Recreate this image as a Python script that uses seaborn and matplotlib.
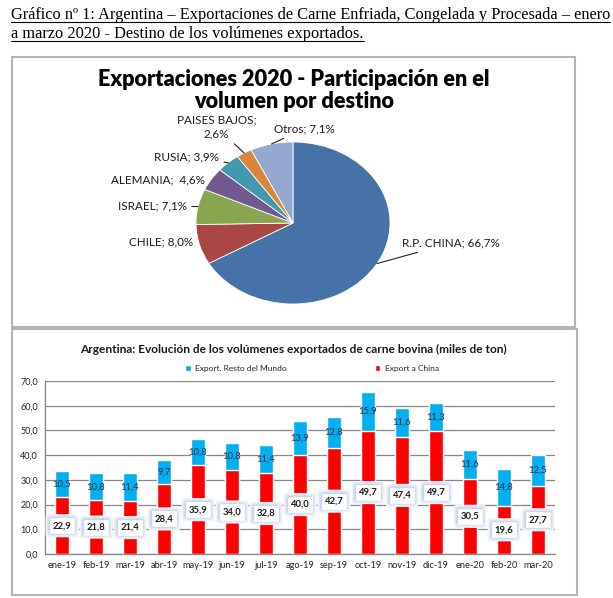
"""
Argentina beef exports: destination share pie (2020) + monthly volumes
China vs rest of the world (ene-19 .. mar-20), stacked bars.
"""
import matplotlib
matplotlib.use("Agg")
import matplotlib.pyplot as plt
from matplotlib.lines import Line2D
from matplotlib.patches import Rectangle
import numpy as np
import pandas as pd
import seaborn as sns

W, H = 613, 598  # output size in px (dpi=100)

# --- pie: share of exported volume by destination ---
PIE_LABELS = ["R.P. CHINA", "CHILE", "ISRAEL", "ALEMANIA", "RUSIA", "PAISES BAJOS", "Otros"]
PIE_TEXTS = ["R.P. CHINA; 66,7%", "CHILE; 8,0%", "ISRAEL; 7,1%", "ALEMANIA;  4,6%",
             "RUSIA; 3,9%", "PAISES BAJOS;\n2,6%", "Otros; 7,1%"]
PIE_SHARES = [66.7, 8.0, 7.1, 4.6, 3.9, 2.6, 7.1]
PIE_COLORS = ["#4572A7", "#AA4643", "#89A54E", "#71588F", "#4198AF", "#DB843D", "#93A9CF"]

# --- bars: monthly volumes (miles de ton) ---
MONTHS = ["ene-19", "feb-19", "mar-19", "abr-19", "may-19", "jun-19", "jul-19", "ago-19",
          "sep-19", "oct-19", "nov-19", "dic-19", "ene-20", "feb-20", "mar-20"]
CHINA = [22.9, 21.8, 21.4, 28.4, 35.9, 34.0, 32.8, 40.0, 42.7, 49.7, 47.4, 49.7, 30.5, 19.6, 27.7]
REST = [10.5, 10.8, 11.4, 9.7, 10.8, 10.8, 11.4, 13.9, 12.8, 15.9, 11.6, 11.3, 11.6, 14.8, 12.5]

RED = "#FF0000"
CYAN = "#00B0F0"
GRID = "#868686"


def px(x, y):
    """pixel (from top-left) -> figure fraction"""
    return x / W, 1 - y / H


def comma(v):
    return f"{v:.1f}".replace(".", ",")


def main():
    sns.set_theme(style="white")
    plt.rcParams["font.family"] = ["Lato", "DejaVu Sans"]

    fig = plt.figure(figsize=(W / 100, H / 100), dpi=100)

    # header (Word document caption, underlined)
    head1 = fig.text(*px(11, 19), "Gráfico nº 1: Argentina – Exportaciones de Carne Enfriada, "
                     "Congelada y Procesada – enero", family="Liberation Serif",
                     fontsize=11.8, va="baseline", ha="left", color="black")
    head2 = fig.text(*px(11, 38), "a marzo 2020 - Destino de los volúmenes exportados.",
                     family="Liberation Serif", fontsize=11.8, va="baseline", ha="left",
                     color="black")

    # frames around both charts
    for (x0, y0, x1, y1) in [(12, 57, 575, 327), (12, 329, 577, 595)]:
        fx, fy = px(x0, y1)
        fig.add_artist(Rectangle((fx, fy), (x1 - x0) / W, (y1 - y0) / H,
                                 transform=fig.transFigure, fill=False,
                                 ec="#B4B4B4", lw=1.5))

    # ---------------- pie ----------------
    fig.text(*px(294, 80), "Exportaciones 2020 - Participación en el", ha="center",
             va="center", fontsize=15.6, fontweight="heavy", color="black")
    fig.text(*px(294, 102), "volumen por destino", ha="center", va="center",
             fontsize=15.6, fontweight="heavy", color="black")

    cx, cy, rx, ry = 293, 223, 97, 81
    ax_pie = fig.add_axes([*px(cx - rx, cy + ry), 2 * rx / W, 2 * ry / H])
    wedges, _ = ax_pie.pie(PIE_SHARES, colors=PIE_COLORS, startangle=90, counterclock=False,
                           wedgeprops=dict(edgecolor="white", linewidth=0.6))
    ax_pie.set_aspect("auto")
    ax_pie.set_xlim(-1, 1)
    ax_pie.set_ylim(-1, 1)

    # label text anchors, in the pie's unit-circle coords
    label_xy = [(1.12, -0.25, "left"), (-1.03, -0.235, "right"), (-1.09, 0.21, "right"),
                (-0.91, 0.53, "right"), (-0.76, 0.815, "right"), (-0.79, 1.185, "center"),
                (-0.2, 1.16, "left")]
    leaders = [True, False, True, False, True, True, True]
    for w, txt, (tx, ty, ha), lead in zip(wedges, PIE_TEXTS, label_xy, leaders):
        mid = np.deg2rad((w.theta1 + w.theta2) / 2)
        ex, ey = np.cos(mid), np.sin(mid)
        ax_pie.annotate(txt, xy=(ex, ey), xytext=(tx, ty), ha=ha, va="center",
                        fontsize=8.4, color="#1a1a1a", linespacing=1.35,
                        arrowprops=dict(arrowstyle="-", color="#222222", lw=0.8,
                                        shrinkA=1, shrinkB=0) if lead else None)

    # ---------------- stacked bars ----------------
    df = pd.DataFrame({"mes": MONTHS, "china": CHINA, "resto": REST})
    df["total"] = df["china"] + df["resto"]

    ax = fig.add_axes([*px(45, 554), 510 / W, 173 / H])
    sns.barplot(data=df, x="mes", y="total", color=CYAN, saturation=1, width=0.4,
                label="Export. Resto del Mundo", ax=ax)
    sns.barplot(data=df, x="mes", y="china", color=RED, saturation=1, width=0.4,
                label="Export a China", ax=ax)

    ax.set_xlim(-0.5, len(MONTHS) - 0.5)
    ax.set_ylim(0, 70)
    ax.set_yticks(np.arange(0, 71, 10))
    ax.set_yticklabels([comma(v) for v in np.arange(0, 71, 10)])
    ax.set_xlabel("")
    ax.set_ylabel("")
    ax.yaxis.grid(True, color=GRID, lw=0.9)
    ax.set_axisbelow(True)
    for s in ["top", "right"]:
        ax.spines[s].set_visible(False)
    for s in ["left", "bottom"]:
        ax.spines[s].set_color(GRID)
        ax.spines[s].set_linewidth(0.9)
    ax.tick_params(axis="y", length=3, color=GRID, labelsize=6.5, labelcolor="#222222", pad=2)
    ax.tick_params(axis="x", which="major", length=0, labelsize=6.7, labelcolor="#222222", pad=5)
    ax.set_xticks(np.arange(-0.5, len(MONTHS)), minor=True)
    ax.tick_params(axis="x", which="minor", length=3, color=GRID)

    for i, (c, r) in enumerate(zip(CHINA, REST)):
        ax.text(i, c + r / 2, comma(r), ha="center", va="center", fontsize=6.8,
                color="#1f2a44")
        # soft blue glow behind the white label box (layered, fading outwards)
        for pad, fc in [(0.75, "#eef2f9"), (0.58, "#dde5f2"), (0.45, "#c9d6ea")]:
            ax.text(i, c / 2, comma(c), ha="center", va="center", fontsize=6.8,
                    color="none",
                    bbox=dict(boxstyle=f"round,pad={pad},rounding_size=0.35", fc=fc,
                              ec="none"))
        ax.text(i, c / 2, comma(c), ha="center", va="center", fontsize=6.8,
                color="#1a1a1a", fontweight="bold",
                bbox=dict(boxstyle="square,pad=0.32", fc="white", ec="white", lw=0.5))

    handles, labels = ax.get_legend_handles_labels()
    ax.legend(handles, labels, loc="center", bbox_to_anchor=px(312, 368),
              bbox_transform=fig.transFigure, ncol=2, frameon=False, fontsize=6,
              handlelength=0.7, handleheight=0.7, handletextpad=0.5, columnspacing=10.5)

    fig.text(*px(293, 349), "Argentina: Evolución de los volúmenes exportados de carne "
             "bovina (miles de ton)", ha="center", va="center", fontsize=8.6,
             fontweight="bold", color="#1a1a1a")

    # underline the header lines
    fig.canvas.draw()
    renderer = fig.canvas.get_renderer()
    for t in (head1, head2):
        bb = t.get_window_extent(renderer)
        base_y = t.get_position()[1] * fig.bbox.height - 2.5
        fig.add_artist(Line2D([bb.x0 / fig.bbox.width, bb.x1 / fig.bbox.width],
                              [base_y / fig.bbox.height] * 2, transform=fig.transFigure,
                              color="black", lw=0.8))

    fig.savefig("out.png", dpi=100)


if __name__ == "__main__":
    main()
